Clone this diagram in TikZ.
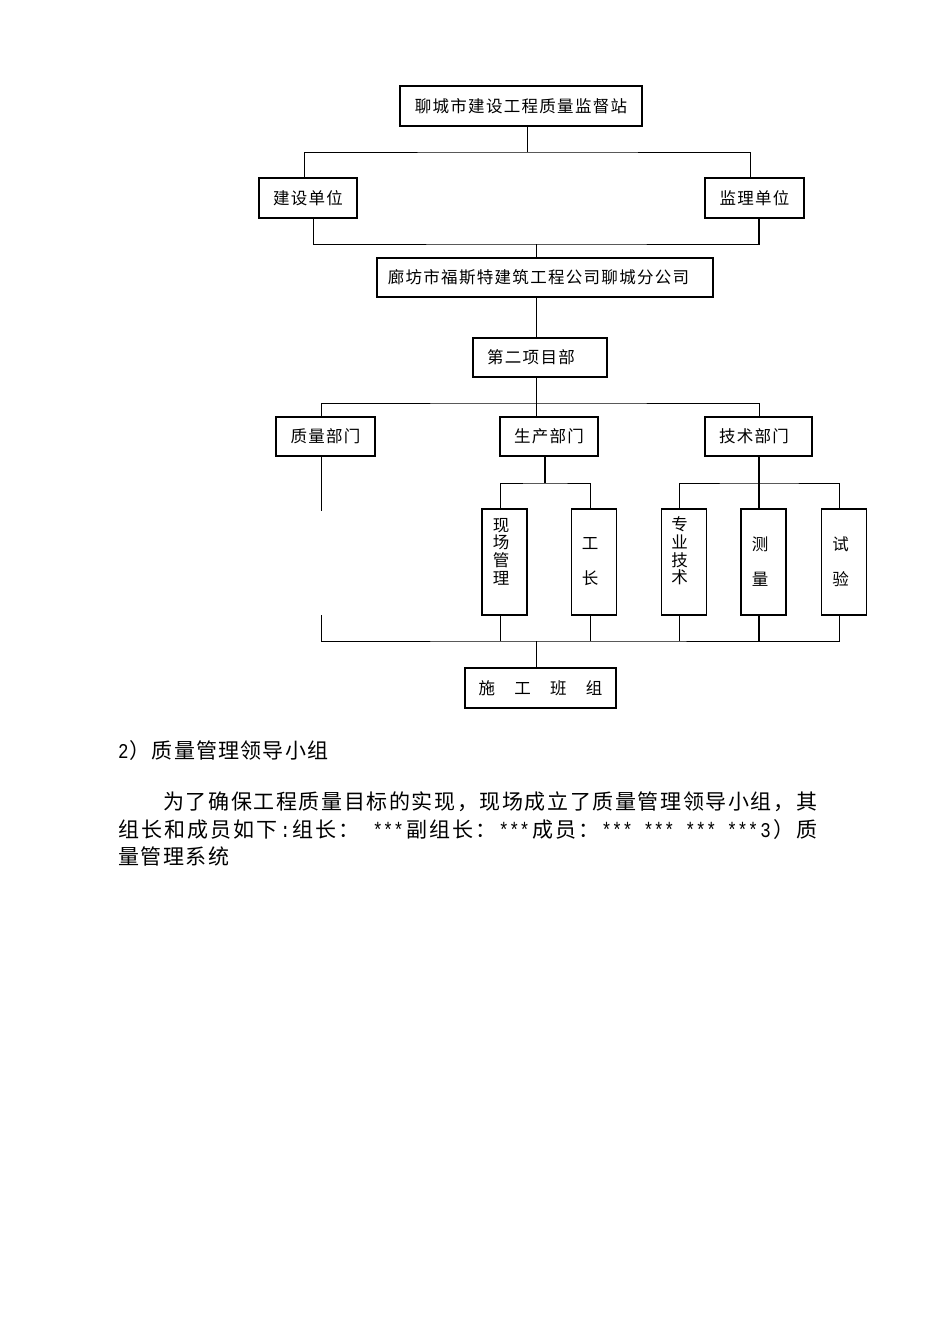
\documentclass[tikz,border=0pt]{standalone}
\usepackage{fontspec}
\setmainfont{Noto Sans CJK SC}
\newfontfamily\monof{Liberation Mono}[FakeStretch=0.83]
\def\spcstop{\relax}
\newcommand\spc[2]{\def\spcamt{#1}\spcloop#2\relax}
\def\spcloop#1{\def\spctmp{#1}\ifx\spctmp\spcstop\unskip\else{#1}\hspace{\spcamt}\expandafter\spcloop\fi}
\newcommand\spf[1]{\spc{0pt plus 1fil}{#1}}
\newcommand\bxfont{\fontsize{16.5}{18}\selectfont}
\newcommand\vbxfont{\fontsize{16.5}{17.7}\selectfont}
\newcommand\bodyfont{\fontsize{21}{25}\selectfont}
\begin{document}
\begin{tikzpicture}[x=1pt,y=-1pt,
  box/.style={draw, line width=1.2pt, inner sep=0pt, font=\bxfont},
  vbox/.style={draw, line width=1.2pt, inner sep=0pt, minimum width=45pt, minimum height=106pt},
  conn/.style={line width=1pt},
  heavy/.style={line width=2pt},
  vt/.style={inner sep=0pt, align=center, font=\vbxfont},
  body/.style={inner sep=0pt, font=\bodyfont, anchor=west}]
\useasboundingbox (0,0) rectangle (950,1344);
\fill[white] (0,0) rectangle (950,1344);

% boxes
\node[box, minimum width=242pt, minimum height=40pt] (top) at (521,106) {\spc{1.3pt}{聊城市建设工程质量监督站}};
\node[box, minimum width=98pt, minimum height=40pt] (js) at (308,198) {\spc{1.3pt}{建设单位}};
\node[box, minimum width=99pt, minimum height=40pt] (jl) at (754.5,198) {\spc{1.3pt}{监理单位}};
\node[box, minimum width=336pt, minimum height=39pt] (lf) at (545,277.5) {\hspace*{-13pt}\spc{1.3pt}{廊坊市福斯特建筑工程公司聊城分公司}};
\node[box, minimum width=134pt, minimum height=39pt] (xm) at (540,357.5) {\hspace*{-18pt}\spc{1.3pt}{第二项目部}};
\node[box, minimum width=99pt, minimum height=39pt] (zl) at (325.5,436.5) {\spc{1.3pt}{质量部门}};
\node[box, minimum width=98pt, minimum height=39pt] (sc) at (549,436.5) {\spc{1.3pt}{生产部门}};
\node[box, minimum width=107pt, minimum height=39pt] (jsb) at (758.5,436.5) {\hspace*{-9pt}\spc{1.3pt}{技术部门}};
\node[vbox] (v1) at (504.5,562) {};
\node[vbox] (v2) at (594,562) {};
\node[vbox] (v3) at (684,562) {};
\node[vbox] (v4) at (763.5,562) {};
\node[vbox] (v5) at (844,562) {};
\node[box, minimum width=151pt, minimum height=40pt] (sg) at (540.5,688) {\spc{19.3pt}{施工班组}};

% texts in vertical boxes
\node[vt] (t1) at (501,551.5) {现\\场\\管\\理};
\node[vt] (t2) at (590,561.5) {工\\[16.8pt]长};
\node[vt] (t3) at (679.5,551) {专\\业\\技\\术};
\node[vt] (t4) at (760,561.5) {测\\[16.8pt]量};
\node[vt] (t5) at (840.5,561.5) {试\\[16.8pt]验};

% bus coordinates
\coordinate (bA) at (527.8,152);
\coordinate (bB) at (536.7,244);
\coordinate (bC) at (536.6,403);
\coordinate (bD) at (545,483);
\coordinate (bE) at (759,483);
\coordinate (bF) at (536.6,641);
\coordinate (gA) at (321.5,511);
\coordinate (gB) at (321.5,615);
\coordinate (x1) at (500,0);
\coordinate (x2) at (590,0);
\coordinate (x3) at (679.5,0);
\coordinate (x4) at (759,0);
\coordinate (x5) at (839,0);
\coordinate (jsN) at ([xshift=-4pt]js.north);
\coordinate (jlN) at ([xshift=-4.5pt]jl.north);
\coordinate (jsS) at ([xshift=5.4pt]js.south);
\coordinate (jlS) at ([xshift=4.5pt]jl.south);

% connectors
\draw[conn] (top.south -| bA) -- (bA);
\draw[conn] (jsN) |- (bA) -| (jlN);
\draw[conn] (jsS) |- (bB) -| (jlS);
\draw[heavy] (jlS) -- (jlS |- bB);
\draw[conn] (bB) -- (bB |- lf.north);
\draw[conn] (lf.south -| bB) -- (xm.north -| bB);
\draw[conn] (xm.south -| bC) -- (bC) -- (bC |- sc.north);
\draw[conn] (zl.north -| gA) |- (bC) -| (jsb.north -| bE);
\draw[heavy] (sc.south -| bD) -- (bD);
\draw[conn] (v1.north -| x1) |- (bD) -| (v2.north -| x2);
\draw[heavy] (jsb.south -| bE) -- (v4.north -| bE);
\draw[conn] (v3.north -| x3) |- (bE) -| (v5.north -| x5);
\draw[conn] (zl.south -| gA) -- (gA);
\draw[conn] (gB) |- (bF) -| (v5.south -| x5);
\draw[conn] (v1.south -| x1) -- (bF -| x1);
\draw[conn] (v2.south -| x2) -- (bF -| x2);
\draw[conn] (v3.south -| x3) -- (bF -| x3);
\draw[heavy] (v4.south -| x4) -- (bF -| x4);
\draw[conn] (bF) -- (sg.north -| bF);

% body text
\node[body] (h) at (118,751) {\makebox[210pt][s]{\spf{{\monof 2}）质量管理领导小组}}};
\node[body] (l1) at (163,802) {\makebox[654pt][s]{\spf{为了确保工程质量目标的实现，现场成立了质量管理领导小组，其}}};
\node[body] (l2) at (118,830) {\makebox[699pt][s]{\spf{组长和成员如下{\monof:}组长：{\monof\ ***}副组长：{\monof***}成员：{\monof*** *** *** ***}{\monof 3}）质}}};
\node[body] (l3) at (118,856) {\spc{1.5pt}{量管理系统}};
\end{tikzpicture}
\end{document}
